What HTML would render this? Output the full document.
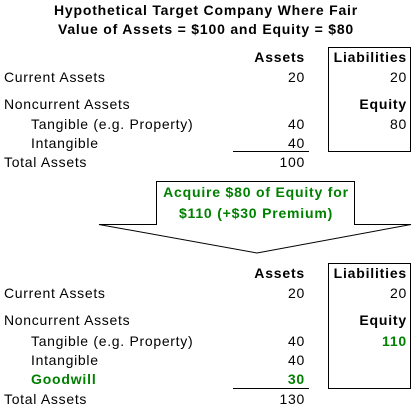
<!DOCTYPE html>
<html><head><meta charset="utf-8"><style>
body{margin:0;background:#fff}
svg{display:block}
text{font-family:"Liberation Sans",Arial,sans-serif;font-size:14px;fill:#000;letter-spacing:0.7px}
.b{font-weight:bold;letter-spacing:0.8px}
.g{fill:#008000;font-weight:bold;letter-spacing:0.8px}
</style></head><body>
<svg width="417" height="408" viewBox="0 0 417 408">
<g>
<text class="b" x="206" y="15" text-anchor="middle">Hypothetical Target Company Where Fair</text>
<text class="b" x="206" y="34" text-anchor="middle">Value of Assets = $100 and Equity = $80</text>
</g>
<g>
<text class="b" x="305" y="62" text-anchor="end">Assets</text>
<text x="4" y="82">Current Assets</text><text x="305" y="82" text-anchor="end">20</text>
<text x="4" y="109">Noncurrent Assets</text>
<text x="31" y="129">Tangible (e.g. Property)</text><text x="305" y="129" text-anchor="end">40</text>
<text x="31" y="148">Intangible</text><text x="305" y="148" text-anchor="end">40</text>
<line x1="233" y1="151.5" x2="309" y2="151.5" stroke="#000"/>
<text x="4" y="167">Total Assets</text><text x="305" y="167" text-anchor="end">100</text>
<rect x="328.5" y="47.5" width="82" height="104" fill="none" stroke="#000"/>
<text class="b" x="407" y="62" text-anchor="end">Liabilities</text>
<text x="407" y="82" text-anchor="end">20</text>
<text class="b" x="407" y="109" text-anchor="end">Equity</text>
<text x="407" y="129" text-anchor="end">80</text>
</g>
<g>
<polygon points="156.5,181.5 354.5,181.5 354.5,224.5 411,224.5 257,253 99,224.5 156.5,224.5" fill="#fff" stroke="#000"/>
<text class="g" x="256" y="197" text-anchor="middle">Acquire $80 of Equity for</text>
<text class="g" x="256" y="218" text-anchor="middle">$110 (+$30 Premium)</text>
</g>
<g>
<text class="b" x="305" y="278" text-anchor="end">Assets</text>
<text x="4" y="298">Current Assets</text><text x="305" y="298" text-anchor="end">20</text>
<text x="4" y="325">Noncurrent Assets</text>
<text x="31" y="346">Tangible (e.g. Property)</text><text x="305" y="346" text-anchor="end">40</text>
<text x="31" y="365">Intangible</text><text x="305" y="365" text-anchor="end">40</text>
<text class="g" x="31" y="384">Goodwill</text><text class="g" x="305" y="384" text-anchor="end">30</text>
<line x1="233" y1="388.5" x2="309" y2="388.5" stroke="#000"/>
<text x="4" y="404">Total Assets</text><text x="305" y="404" text-anchor="end">130</text>
<rect x="328.5" y="263.5" width="82" height="125" fill="none" stroke="#000"/>
<text class="b" x="407" y="278" text-anchor="end">Liabilities</text>
<text x="407" y="298" text-anchor="end">20</text>
<text class="b" x="407" y="325" text-anchor="end">Equity</text>
<text class="g" x="407" y="346" text-anchor="end">110</text>
</g>
</svg>
</body></html>
